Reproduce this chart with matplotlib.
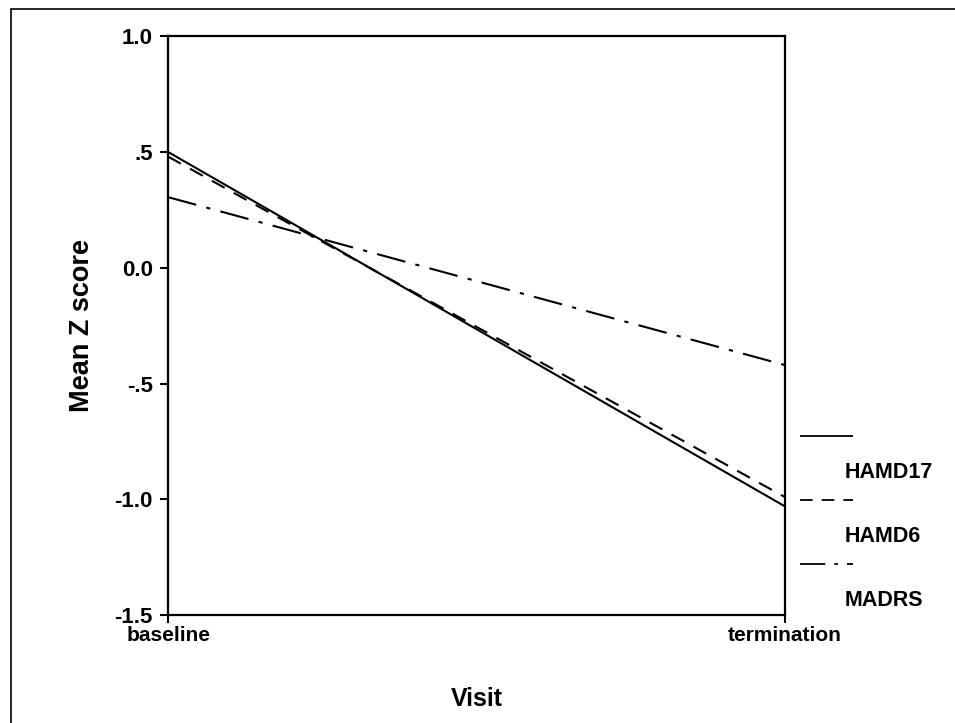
import matplotlib
matplotlib.use("Agg")
import matplotlib.pyplot as plt
from matplotlib.lines import Line2D
from matplotlib.patches import Rectangle

plt.rcParams["font.family"] = ["Liberation Sans", "DejaVu Sans"]
plt.rcParams["font.weight"] = "bold"

visits = ["baseline", "termination"]
series = ["HAMD17", "HAMD6", "MADRS"]
hamd17 = [0.50, -1.03]
hamd6 = [0.48, -0.99]
madrs = [0.305, -0.42]
yticks = [1.0, 0.5, 0.0, -0.5, -1.0, -1.5]
ytick_labels = ["1.0", ".5", "0.0", "-.5", "-1.0", "-1.5"]

styles = {"HAMD17": (0, ()), "HAMD6": (0, (7, 5)), "MADRS": (0, (14, 5, 2, 5))}
values = {"HAMD17": hamd17, "HAMD6": hamd6, "MADRS": madrs}

fig = plt.figure(figsize=(9.55, 7.23), dpi=100)
ax = fig.add_axes([0.176, 0.149, 0.646, 0.801])

x = list(range(len(visits)))
for name in series:
    ax.plot(x, values[name], color="black", lw=1.5, linestyle=styles[name])

ax.set_xlim(0, 1)
ax.set_ylim(-1.5, 1.0)
ax.set_xticks(x)
ax.set_xticklabels(visits, fontsize=15, fontweight="bold")
ax.set_yticks(yticks)
ax.set_yticklabels(ytick_labels, fontsize=16)
ax.tick_params(axis="y", direction="out", length=6, width=1.5, pad=5)
ax.tick_params(axis="x", direction="out", length=6, width=1.5, pad=2)
for s in ax.spines.values():
    s.set_linewidth(1.6)
ax.set_ylabel("Mean Z score", fontsize=19.5, fontweight="bold", labelpad=14)
ax.set_xlabel("Visit", fontsize=18, fontweight="bold", labelpad=30)

# legend drawn like the original: line, then label underneath
W, H = 955, 723
leg_y = [436, 500, 564]
for name, yl in zip(series, leg_y):
    fig.add_artist(Line2D([800 / W, 853 / W], [1 - yl / H, 1 - yl / H],
                          color="black", lw=1.3, linestyle=styles[name]))
    fig.text(845 / W, 1 - (yl + 37) / H, name, fontsize=15.5,
             ha="left", va="center")

# outer frame
fig.add_artist(Rectangle((11 / W, -0.1), 1.2, 1 - 9 / H + 0.1,
                         transform=fig.transFigure, fill=False,
                         edgecolor="black", lw=1.2))

fig.savefig("out.png", dpi=100)
